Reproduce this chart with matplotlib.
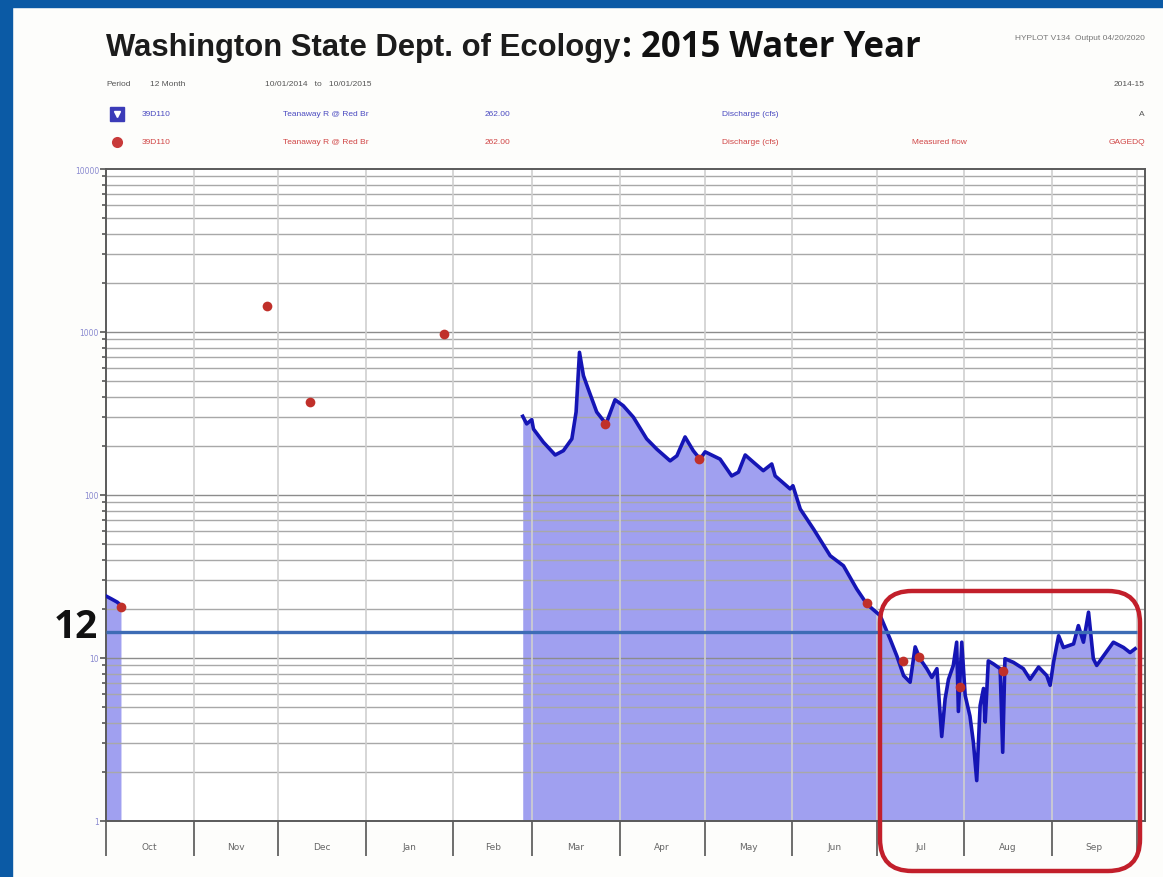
#!/usr/bin/env python3
# Teanaway R @ Red Br, 2015 water year discharge (HYPLOT style page)

import numpy as np
import matplotlib
matplotlib.use("Agg")
import matplotlib.pyplot as plt
from matplotlib.patches import Rectangle, FancyBboxPatch
from matplotlib.lines import Line2D
from matplotlib.ticker import FixedLocator, NullFormatter, LogLocator

# ---- data (days since 10/01/2014, discharge cfs) ----
month_names = ["Oct", "Nov", "Dec", "Jan", "Feb", "Mar",
               "Apr", "May", "Jun", "Jul", "Aug", "Sep"]
month_days = [31, 30, 31, 31, 28, 31, 30, 31, 30, 31, 31, 30]

# early October record, before the gage gap
oct_day = [0, 2, 4, 5.3]
oct_q = [24, 23, 22, 21]

# continuous record from late February to end of September
flow_day = [147.6, 149.0, 150.8, 151.4, 154.9, 159.1, 162.0, 165.0, 166.5, 167.7,
            169.1, 170.8, 173.8, 177.1, 180.3, 183.2, 186.8, 191.5, 195.1, 199.8,
            202.2, 205.1, 208.0, 210.4, 212.2, 217.5, 221.6, 224.0, 226.4, 229.3,
            232.8, 235.8, 237.0, 242.3, 243.3, 245.9, 250.6, 256.5, 261.2, 265.9,
            269.5, 274.2, 277.7, 280.1, 282.5, 284.8, 286.6, 288.3, 290.7, 292.5,
            294.3, 296.0, 297.2, 298.4, 300.1, 301.3, 301.9, 303.1, 304.3, 306.0,
            307.2, 308.4, 309.6, 310.8, 311.4, 312.5, 314.3, 316.7, 317.6, 318.4,
            321.4, 324.9, 327.3, 330.3, 333.2, 334.4, 335.6, 337.4, 339.1, 342.7,
            344.4, 346.2, 348.0, 349.7, 350.9, 353.3, 356.8, 360.4, 362.7, 364.5]
flow_q = [304, 273, 290, 254, 211, 176, 187, 221, 323, 750,
          540, 447, 323, 273, 384, 353, 300, 221, 191, 162,
          174, 227, 187, 166, 184, 166, 131, 138, 176, 159,
          141, 155, 131, 109, 114, 82, 61.8, 42.4, 36.8, 26.5,
          21.4, 18.2, 13.1, 10.3, 7.8, 7.1, 11.7, 9.9, 8.6, 7.6,
          8.6, 3.3, 5.6, 7.4, 9.0, 12.5, 4.7, 12.5, 5.9, 4.4,
          3.05, 1.77, 5.1, 6.5, 4.05, 9.6, 9.2, 8.6, 2.64, 9.9,
          9.4, 8.6, 7.4, 8.8, 7.8, 6.8, 9.4, 13.7, 11.6, 12.2,
          15.8, 12.5, 19.1, 9.9, 9.0, 10.3, 12.5, 11.6, 10.8, 11.4]

# measured flows (field visits)
meas_day = [5.3, 57.0, 72.3, 119.7, 176.8, 210.0, 269.6, 282.3, 288.0, 302.5, 317.7]
meas_q = [20.5, 1445, 372, 972, 273, 166, 21.7, 9.6, 10.1, 6.6, 8.3]

threshold_q = 14.5   # drawn line, labelled "12" on the page
threshold_label = "12"

W, H = 1163, 878
fig = plt.figure(figsize=(W / 100, H / 100), dpi=100)
fig.patch.set_facecolor("#fdfdfb")


def fy(y_px):
    return 1 - y_px / H


def fx(x_px):
    return x_px / W


# blue page frame (left and top)
fig.add_artist(Rectangle((0, 0), fx(12), 1, transform=fig.transFigure,
                         color="#0b5aa5", zorder=0))
fig.add_artist(Rectangle((0, fy(8)), 1, fy(0) - fy(8), transform=fig.transFigure,
                         color="#0b5aa5", zorder=0))

ax = fig.add_axes([fx(106), fy(822), fx(1145) - fx(106), fy(170) - fy(822)])
ax.set_facecolor("white")
ax.set_yscale("log")
ax.set_ylim(1, 10000)
ax.set_xlim(0, 368)

# month boundaries
bounds = np.concatenate([[0], np.cumsum(month_days)])
mids = (bounds[:-1] + bounds[1:]) / 2

# grid
for d in range(0, 4):
    for m in range(1, 10):
        v = m * 10 ** d
        if v == 1:
            continue
        ax.axhline(v, color="#8c8c8c" if m == 1 else "#a8a8a8", lw=1.0, zorder=1.5)
for b in bounds[1:]:
    ax.axvline(b, color="#cfcfcf", lw=1.2, zorder=1.5)

# data
ax.fill_between(oct_day, oct_q, 1, color="#a0a0f0", lw=0, zorder=1)
ax.fill_between(flow_day, flow_q, 1, color="#a0a0f0", lw=0, zorder=1)
ax.plot(oct_day, oct_q, color="#1515b5", lw=2.6, zorder=3)
ax.plot(flow_day, flow_q, color="#1515b5", lw=2.6, zorder=3)
ax.hlines(threshold_q, 0, 365, color="#3d6cb5", lw=2.4, zorder=4)
ax.plot(meas_day, meas_q, "o", color="#c0302a", ms=7, mec="none", zorder=5)

# axes styling
for s in ax.spines.values():
    s.set_color("#5a5a5a")
    s.set_linewidth(1.4)

ax.xaxis.set_major_locator(FixedLocator(bounds))
ax.xaxis.set_major_formatter(NullFormatter())
ax.set_xticks(mids, month_names, minor=True)
ax.tick_params(axis="x", which="major", direction="out", length=25, width=1.2,
               color="#555555")
ax.tick_params(axis="x", which="minor", length=0, pad=15, labelsize=6.5,
               labelcolor="#666666")

ax.set_yticks([1, 10, 100, 1000, 10000], ["1", "10", "100", "1000", "10000"])
ax.yaxis.set_minor_locator(LogLocator(base=10, subs=np.arange(2, 10)))
ax.yaxis.set_minor_formatter(NullFormatter())
ax.tick_params(axis="y", which="major", direction="out", length=4, width=1.2,
               color="#555555", pad=1, labelsize=5.5, labelcolor="#8a8ad0")
ax.tick_params(axis="y", which="minor", direction="out", length=3, width=1.2,
               color="#555555")

# header
title1 = fig.text(fx(106), fy(56), "Washington State Dept. of Ecology",
                  fontfamily="Liberation Sans", fontweight="bold", fontsize=22,
                  color="#1c1c1c", va="baseline")
title2 = fig.text(fx(622), fy(57), ": 2015 Water Year",
                  fontfamily="Open Sans", fontweight="bold", fontsize=22,
                  color="#111111", va="baseline")
fig.canvas.draw()
r = fig.canvas.get_renderer()
for t, width in ((title1, 620 - 106), (title2, 920 - 622)):
    bw = t.get_window_extent(r).width
    t.set_fontsize(t.get_fontsize() * width / bw)

small = dict(fontfamily="Liberation Sans", fontsize=6, va="center")
fig.text(fx(1145), fy(38), "HYPLOT V134  Output 04/20/2020", ha="right",
         color="#777777", **small)
fig.text(fx(106), fy(85), "Period", color="#555555", **small)
fig.text(fx(150), fy(85), "12 Month", color="#555555", **small)
fig.text(fx(265), fy(85), "10/01/2014   to   10/01/2015", color="#555555", **small)
fig.text(fx(1145), fy(85), "2014-15", ha="right", color="#555555", **small)

blue_t = "#4a4ac0"
red_t = "#d04545"
rows = [(115, blue_t, "Discharge (cfs)", "", "A", "#555555"),
        (143, red_t, "Discharge (cfs)", "Measured flow", "GAGEDQ", red_t)]
for y, c, param, kind, code, code_c in rows:
    fig.text(fx(142), fy(y), "39D110", color=c, **small)
    fig.text(fx(283), fy(y), "Teanaway R @ Red Br", color=c, **small)
    fig.text(fx(485), fy(y), "262.00", color=c, **small)
    fig.text(fx(722), fy(y), param, color=c, **small)
    if kind:
        fig.text(fx(912), fy(y), kind, color=c, **small)
    fig.text(fx(1145), fy(y), code, ha="right", color=code_c, **small)

fig.add_artist(Line2D([fx(117)], [fy(115)], marker="s", ms=10, color="#3b3bb8",
                      transform=fig.transFigure))
fig.add_artist(Line2D([fx(117)], [fy(115)], marker="v", ms=5, color="white",
                      transform=fig.transFigure))
fig.add_artist(Line2D([fx(117)], [fy(143)], marker="o", ms=8, color="#c83a3a",
                      mec="none", transform=fig.transFigure))

# annotation: threshold label and highlight box
fig.text(fx(98), fy(628), threshold_label, ha="right", va="center",
         fontfamily="Open Sans", fontweight="bold", fontsize=28, color="#111111")
fig.add_artist(FancyBboxPatch((8.80, (H - 872) / 100), 2.60, 2.80,
                              boxstyle="round,pad=0,rounding_size=0.32",
                              transform=fig.dpi_scale_trans, fill=False,
                              ec="#c21f2b", lw=3.2, zorder=10))

fig.savefig("out.png", dpi=100, facecolor=fig.get_facecolor())
